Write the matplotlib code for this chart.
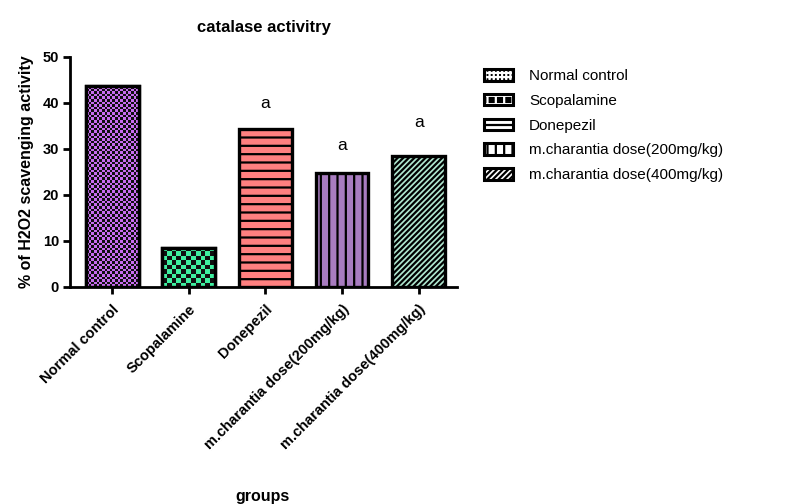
import numpy as np
import matplotlib
matplotlib.use("Agg")
import matplotlib.pyplot as plt
from matplotlib.patches import Patch
from matplotlib.colors import ListedColormap
from matplotlib.legend_handler import HandlerTuple

categories = ["Normal control", "Scopalamine", "Donepezil",
              "m.charantia dose(200mg/kg)", "m.charantia dose(400mg/kg)"]
values = [43.6, 8.5, 34.3, 24.7, 28.5]
sig_labels = ["", "", "a", "a", "a"]
sig_heights = [None, None, 39.8, 30.7, 35.7]
colors = ["#c86cef", "#3ff0a0", "#ff8080", "#a87cc0", "#b0e8d0"]
hatches = [None, None, "--", "||", "//////"]
checker_px = [2.6, 4.6, None, None, None]
yticks = [0, 10, 20, 30, 40, 50]

plt.rcParams["font.family"] = ["Liberation Sans", "DejaVu Sans"]
plt.rcParams["hatch.linewidth"] = 1.6

fig = plt.figure(figsize=(7.92, 5.04), dpi=100)
ax = fig.add_axes([70/792, 1-287/504, (457-70)/792, (287-57)/504])

x = np.arange(len(categories))
bars = ax.bar(x, values, width=0.69, color=colors, edgecolor="black",
              linewidth=2.4, zorder=3)
for b, h in zip(bars, hatches):
    if h:
        b.set_hatch(h)

ax.set_xlim(-0.55, 4.5)
ax.set_ylim(0, 50)
fig.canvas.draw()

# checker patterns for the first two bars
for b, c, cp in zip(bars, colors, checker_px):
    if cp is None:
        continue
    bb = b.get_window_extent()
    nx = max(1, int(round(bb.width / cp)))
    ny = max(1, int(round(bb.height / cp)))
    arr = (np.add.outer(np.arange(ny), np.arange(nx)) % 2)
    cmap = ListedColormap([c, "#101010"])
    x0, y0 = b.get_x(), b.get_y()
    im = ax.imshow(arr, cmap=cmap, extent=(x0, x0 + b.get_width(), y0, y0 + b.get_height()),
                   aspect="auto", interpolation="nearest", zorder=3.5, origin="lower")
    im.set_clip_path(b)
    ax.bar(b.get_x() + b.get_width()/2, b.get_height(), width=b.get_width(),
           facecolor="none", edgecolor="black", linewidth=2.4, zorder=4)

ax.set_xlim(-0.55, 4.5)
ax.set_ylim(0, 50)

for xi, s, hy in zip(x, sig_labels, sig_heights):
    if s:
        ax.text(xi, hy, s, ha="center", va="center", fontsize=12.5)

for sp in ["top", "right"]:
    ax.spines[sp].set_visible(False)
for sp in ["left", "bottom"]:
    ax.spines[sp].set_linewidth(2.0)

ax.set_yticks(yticks)
ax.set_yticklabels([str(t) for t in yticks], fontweight="bold", fontsize=10.5)
ax.set_xticks(x)
ax.set_xticklabels(categories, rotation=45, ha="right", rotation_mode="anchor",
                   fontweight="bold", fontsize=10.5)
ax.tick_params(axis="both", width=2.0, length=5, direction="out")
ax.tick_params(axis="x", pad=6)
ax.tick_params(axis="y", pad=3)

ax.set_title("catalase activitry", fontweight="bold", fontsize=12, pad=18)
ax.set_ylabel("% of H2O2 scavenging activity", fontweight="bold", fontsize=11.5)
ax.yaxis.set_label_coords((34-70)/387, 0.5)
fig.text(263/792, 1-497/504, "groups", ha="center", va="center",
         fontweight="bold", fontsize=11.5)

def checker_handle(h):
    return (Patch(facecolor="black", edgecolor="black", linewidth=0),
            Patch(facecolor="none", edgecolor="white", hatch=h, linewidth=0),
            Patch(facecolor="none", edgecolor="black", linewidth=2.2))

handles = [
    checker_handle("++++"),
    checker_handle("++"),
    Patch(facecolor="white", edgecolor="black", hatch="-", linewidth=2.2),
    Patch(facecolor="white", edgecolor="black", hatch="||", linewidth=2.2),
    Patch(facecolor="white", edgecolor="black", hatch="//////", linewidth=2.2),
]
fig.legend(handles, categories, loc="upper left",
           bbox_to_anchor=(478/792, 1-63/504), frameon=False,
           fontsize=11, handlelength=1.9, handleheight=0.78,
           handletextpad=1.05, labelspacing=0.7, borderaxespad=0,
           handler_map={tuple: HandlerTuple(ndivide=1, pad=0)})

fig.savefig("out.png", dpi=100)
